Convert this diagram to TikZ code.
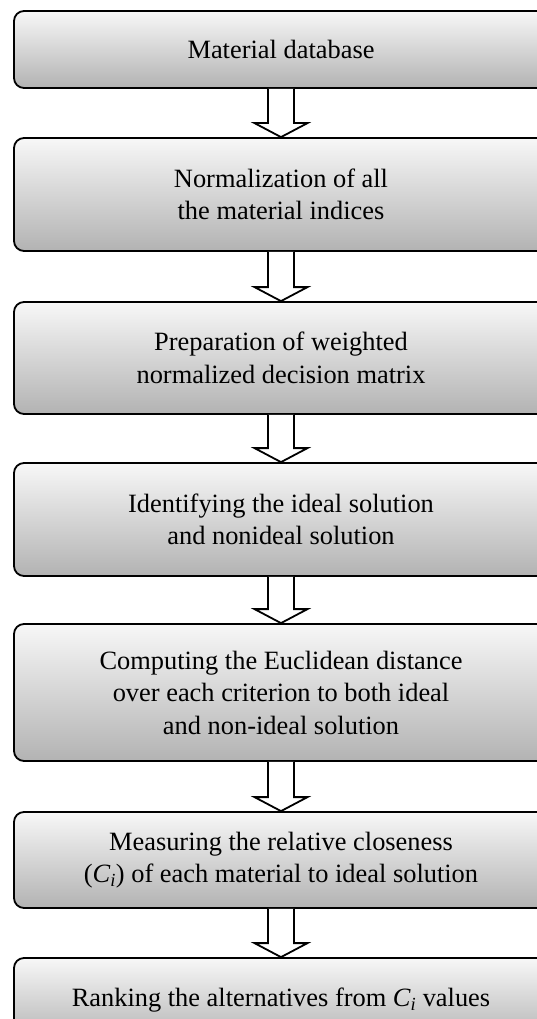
\documentclass[tikz,border=0pt]{standalone}
\usepackage{fontspec}
\setmainfont{Liberation Serif}
\usetikzlibrary{calc}
\newcommand{\Ci}{{\itshape C}\textsubscript{\itshape i}}
\tikzset{
  flowbox/.style={draw=black,line width=1.8pt,rounded corners=10pt,top color=white!97!black,bottom color=black!30,minimum width=534pt,align=center,font=\fontsize{26.4}{32.5}\selectfont},
  hollowarrow/.style={draw=black,line width=1.8pt,fill=white,line join=miter}
}
\newcommand{\flowarrow}[2]{%
  \draw[hollowarrow] ($(#1.south)+(-13,0)$) -- ($(#2.north)+(-13,-14)$) -- ($(#2.north)+(-26.5,-14)$) -- (#2.north) -- ($(#2.north)+(26.5,-14)$) -- ($(#2.north)+(13,-14)$) -- ($(#1.south)+(13,0)$);}
\begin{document}
\begin{tikzpicture}[x=1pt,y=-1pt]
  \useasboundingbox (0,0) rectangle (537,1019);
  \clip (0,0) rectangle (537,1019);
  \node[flowbox,minimum height=77pt] (db) at (281,49.5) {Material database};
  \node[flowbox,minimum height=113pt] (norm) at (281,194.5) {Normalization of all\\the material indices};
  \node[flowbox,minimum height=112pt] (weighted) at (281,358) {Preparation of weighted\\normalized decision matrix};
  \node[flowbox,minimum height=113pt] (ideal) at (281,519.5) {Identifying the ideal solution\\and nonideal solution};
  \node[flowbox,minimum height=137pt] (distance) at (281,692.5) {Computing the Euclidean distance\\over each criterion to both ideal\\and non-ideal solution};
  \node[flowbox,minimum height=96pt] (closeness) at (281,860) {Measuring the relative closeness\\(\Ci) of each material to ideal solution};
  \node[flowbox,minimum height=84pt] (ranking) at (281,1000) {Ranking the alternatives from \Ci{} values};
  % hollow arrows between the steps
  \flowarrow{db}{norm}
  \flowarrow{norm}{weighted}
  \flowarrow{weighted}{ideal}
  \flowarrow{ideal}{distance}
  \flowarrow{distance}{closeness}
  \flowarrow{closeness}{ranking}
\end{tikzpicture}
\end{document}
